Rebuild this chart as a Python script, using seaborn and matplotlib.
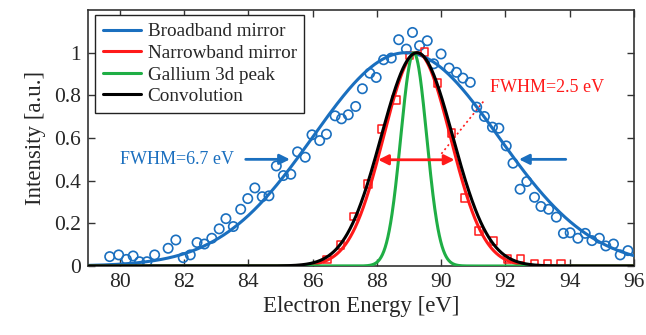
import numpy as np
import pandas as pd
import matplotlib
matplotlib.use("Agg")
import matplotlib.pyplot as plt
import seaborn as sns

# ---- data ----
blue_E = [79.68, 79.96, 80.20, 80.41, 80.61, 80.84, 81.08, 81.50, 81.74, 81.97,
          82.19, 82.40, 82.63, 82.86, 83.09, 83.30, 83.53, 83.76, 83.98, 84.20,
          84.43, 84.64, 84.87, 85.09, 85.32, 85.53, 85.77, 85.98, 86.22, 86.43,
          86.70, 86.90, 87.11, 87.34, 87.55, 87.78, 87.98, 88.21, 88.45, 88.68,
          88.92, 89.11, 89.33, 89.57, 89.77, 90.00, 90.25, 90.48, 90.68, 90.91,
          91.11, 91.35, 91.60, 91.80, 92.03, 92.24, 92.46, 92.67, 92.91, 93.11,
          93.35, 93.59, 93.81, 94.02, 94.26, 94.49, 94.70, 94.93, 95.13, 95.37,
          95.58, 95.82]
blue_I = [0.044, 0.052, 0.031, 0.047, 0.020, 0.020, 0.052, 0.083, 0.122, 0.039,
          0.052, 0.110, 0.103, 0.130, 0.174, 0.222, 0.185, 0.266, 0.316, 0.366,
          0.325, 0.329, 0.469, 0.424, 0.430, 0.535, 0.510, 0.615, 0.588, 0.618,
          0.704, 0.690, 0.709, 0.748, 0.831, 0.904, 0.884, 0.967, 0.975, 1.061,
          1.017, 1.095, 1.033, 1.056, 0.948, 0.994, 0.928, 0.908, 0.881, 0.861,
          0.745, 0.701, 0.651, 0.646, 0.563, 0.482, 0.360, 0.396, 0.322, 0.279,
          0.266, 0.229, 0.153, 0.156, 0.130, 0.153, 0.119, 0.130, 0.094, 0.103,
          0.052, 0.072]

red_E = [86.45, 86.87, 87.29, 87.72, 88.14, 88.60, 89.02, 89.49, 89.88, 90.32,
         90.73, 91.18, 91.64, 92.06, 92.48, 92.91, 93.32, 93.74]
red_I = [0.031, 0.099, 0.232, 0.385, 0.642, 0.779, 0.986, 1.003, 0.858, 0.623,
         0.318, 0.164, 0.117, 0.033, 0.035, 0.009, 0.009, 0.009]

# Gaussian fit parameters (centre, FWHM)
fit_names = ["Broadband mirror", "Narrowband mirror", "Gallium 3d peak"]
fit_centers = [88.9, 89.25, 89.15]
fit_fwhm = [6.8, 2.45, 0.95]

xticks = [80, 82, 84, 86, 88, 90, 92, 94, 96]
yticks = [0, 0.2, 0.4, 0.6, 0.8, 1]
ytick_labels = ["0", "0.2", "0.4", "0.6", "0.8", "1"]

BLUE = "#1a6fbf"
RED = "#ff1a1a"
GREEN = "#1fae45"
BLACK = "#000000"

# ---- build curve table ----
E = np.linspace(79, 96, 1200)


def gauss(x, c, w):
    s = w / (2 * np.sqrt(2 * np.log(2)))
    return np.exp(-0.5 * ((x - c) / s) ** 2)


rows = []
for name, c, w in zip(fit_names, fit_centers, fit_fwhm):
    rows.append(pd.DataFrame({"E": E, "I": gauss(E, c, w), "curve": name}))
conv_w = np.sqrt(fit_fwhm[1] ** 2 + fit_fwhm[2] ** 2)
rows.append(pd.DataFrame({"E": E, "I": gauss(E, fit_centers[1], conv_w), "curve": "Convolution"}))
curves = pd.concat(rows, ignore_index=True)

pts_blue = pd.DataFrame({"E": blue_E, "I": blue_I})
pts_red = pd.DataFrame({"E": red_E, "I": red_I})

# ---- plot ----
sns.set_style("ticks")
plt.rcParams["font.family"] = ["Liberation Serif", "DejaVu Serif"]
plt.rcParams["xtick.direction"] = "in"
plt.rcParams["ytick.direction"] = "in"

fig = plt.figure(figsize=(6.46, 3.35), dpi=100)
ax = fig.add_axes([0.136, 0.206, 0.845, 0.764])

sns.scatterplot(data=pts_blue, x="E", y="I", ax=ax, marker="o", s=45,
                facecolor="none", edgecolor=BLUE, linewidth=1.2, zorder=3, legend=False)
sns.scatterplot(data=pts_red, x="E", y="I", ax=ax, marker="s", s=28,
                facecolor="none", edgecolor=RED, linewidth=1.1, zorder=3, legend=False)

palette = {"Broadband mirror": BLUE, "Narrowband mirror": RED,
           "Gallium 3d peak": GREEN, "Convolution": BLACK}
order = ["Broadband mirror", "Narrowband mirror", "Gallium 3d peak", "Convolution"]
sns.lineplot(data=curves, x="E", y="I", hue="curve", hue_order=order,
             palette=palette, ax=ax, linewidth=2.2, zorder=4)

# annotations
ax.annotate("", xy=(85.38, 0.5), xytext=(83.83, 0.5),
            arrowprops=dict(arrowstyle="-|>,head_length=0.6,head_width=0.3",
                            color=BLUE, lw=2))
ax.annotate("", xy=(92.34, 0.5), xytext=(93.97, 0.5),
            arrowprops=dict(arrowstyle="-|>,head_length=0.6,head_width=0.3",
                            color=BLUE, lw=2))
ax.text(80.0, 0.497, "FWHM=6.7 eV", color=BLUE, fontsize=13, va="center", ha="left")
ax.annotate("", xy=(88.04, 0.498), xytext=(90.42, 0.498),
            arrowprops=dict(arrowstyle="<|-|>,head_length=0.6,head_width=0.3",
                            color=RED, lw=2, shrinkA=0, shrinkB=0), zorder=5)
ax.plot([90.01, 91.36], [0.526, 0.779], color=RED, lw=1.2, ls=(0, (1.2, 1.8)))
ax.text(91.51, 0.835, "FWHM=2.5 eV", color=RED, fontsize=13, va="center", ha="left")

ax.set_xlim(79, 96)
ax.set_ylim(0, 1.2)
ax.set_xticks(xticks)
ax.set_xticklabels([str(t) for t in xticks])
ax.set_yticks(yticks)
ax.set_yticklabels(ytick_labels)
ax.tick_params(axis="both", which="both", direction="in", top=True, right=True,
               length=5, width=1, labelsize=15.5, color="#333333", pad=5)
for sp in ax.spines.values():
    sp.set_visible(True)
    sp.set_color("#333333")
    sp.set_linewidth(1.2)
ax.set_xlabel("Electron Energy [eV]", fontsize=16.5, labelpad=3)
ax.set_ylabel("Intensity [a.u.]", fontsize=16.5, labelpad=6)

leg = ax.legend(loc="upper left", bbox_to_anchor=(0.013, 0.98), borderaxespad=0,
                fontsize=13.8, handlelength=2.0, handletextpad=0.35, labelspacing=0.22,
                borderpad=0.4, frameon=True, fancybox=False, title=None)
leg.get_frame().set_edgecolor("#222222")
leg.get_frame().set_linewidth(1.0)
leg.get_frame().set_alpha(1)
for h in leg.get_lines():
    h.set_linewidth(2.2)

fig.savefig("out.png", dpi=100)
